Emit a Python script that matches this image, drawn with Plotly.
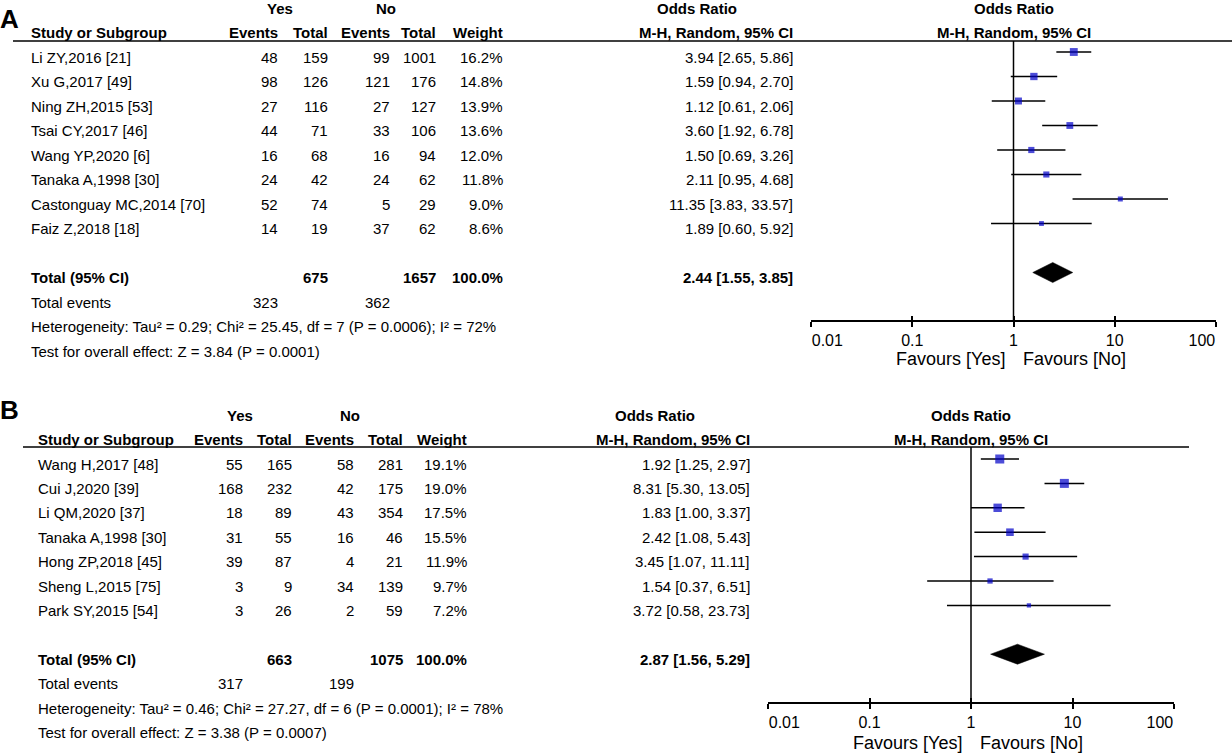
import plotly.graph_objects as go

W, H = 1232, 753
FONT = "Arial, 'Liberation Sans', sans-serif"

# ---------------- panel A data ----------------
a_study = ["Li ZY,2016 [21]", "Xu G,2017 [49]", "Ning ZH,2015 [53]", "Tsai CY,2017 [46]",
           "Wang YP,2020 [6]", "Tanaka A,1998 [30]", "Castonguay MC,2014 [70]", "Faiz Z,2018 [18]"]
a_yes_events = [48, 98, 27, 44, 16, 24, 52, 14]
a_yes_total = [159, 126, 116, 71, 68, 42, 74, 19]
a_no_events = [99, 121, 27, 33, 16, 24, 5, 37]
a_no_total = [1001, 176, 127, 106, 94, 62, 29, 62]
a_weight = [16.2, 14.8, 13.9, 13.6, 12.0, 11.8, 9.0, 8.6]
a_or = [3.94, 1.59, 1.12, 3.60, 1.50, 2.11, 11.35, 1.89]
a_lo = [2.65, 0.94, 0.61, 1.92, 0.69, 0.95, 3.83, 0.60]
a_hi = [5.86, 2.70, 2.06, 6.78, 3.26, 4.68, 33.57, 5.92]
a_total_n = [675, 1657]
a_total_weight = 100.0
a_total_or = [2.44, 1.55, 3.85]
a_total_events = [323, 362]
a_het = "Heterogeneity: Tau² = 0.29; Chi² = 25.45, df = 7 (P = 0.0006); I² = 72%"
a_test = "Test for overall effect: Z = 3.84 (P = 0.0001)"

# ---------------- panel B data ----------------
b_study = ["Wang H,2017 [48]", "Cui J,2020 [39]", "Li QM,2020 [37]", "Tanaka A,1998 [30]",
           "Hong ZP,2018 [45]", "Sheng L,2015 [75]", "Park SY,2015 [54]"]
b_yes_events = [55, 168, 18, 31, 39, 3, 3]
b_yes_total = [165, 232, 89, 55, 87, 9, 26]
b_no_events = [58, 42, 43, 16, 4, 34, 2]
b_no_total = [281, 175, 354, 46, 21, 139, 59]
b_weight = [19.1, 19.0, 17.5, 15.5, 11.9, 9.7, 7.2]
b_or = [1.92, 8.31, 1.83, 2.42, 3.45, 1.54, 3.72]
b_lo = [1.25, 5.30, 1.00, 1.08, 1.07, 0.37, 0.58]
b_hi = [2.97, 13.05, 3.37, 5.43, 11.11, 6.51, 23.73]
b_total_n = [663, 1075]
b_total_weight = 100.0
b_total_or = [2.87, 1.56, 5.29]
b_total_events = [317, 199]
b_het = "Heterogeneity: Tau² = 0.46; Chi² = 27.27, df = 6 (P = 0.0001); I² = 78%"
b_test = "Test for overall effect: Z = 3.38 (P = 0.0007)"

tick_vals = [0.01, 0.1, 1, 10, 100]
tick_text = ["0.01", "0.1", "1", "10", "100"]


def px(p):
    return p / W


def py(p):
    return 1 - p / H


fig = go.Figure()
annotations = []
shapes = []


def txt(x, y, s, yref, anchor="right", bold=False, size=15, xref="paper", xshift=0, yshift=-5):
    annotations.append(dict(
        x=x, y=y, xref=xref, yref=yref, text="<b>%s</b>" % s if bold else s,
        xanchor=anchor, yanchor="middle", showarrow=False, xshift=xshift, yshift=yshift,
        font=dict(family=FONT, size=size, color="black")))


def panel(label, study, ye, yt, ne, nt, wt, orr, lo, hi, tot_n, tot_w, tot_or, tot_ev, het, test, g):
    xa, ya = g["xaxes"][0], g["yaxis"]
    yref = "y" if ya == "yaxis" else "y" + ya[5:]
    xref = "x" + xa[5:]
    n = len(study)
    rows = list(range(n))

    # panel letter
    annotations.append(dict(x=px(g["label_x"]), y=py(g["label_y"]), xref="paper", yref="paper",
                            text="<b>%s</b>" % label, showarrow=False, xanchor="center",
                            yanchor="middle", font=dict(family=FONT, size=26, color="black")))

    c = g["cols"]
    # headers (annotation x on a log axis is log10 -> 0 is OR = 1)
    txt(px(g["yes_c"]), -2, "Yes", yref, "center", True)
    txt(px(g["no_c"]), -2, "No", yref, "center", True)
    txt(px(g["or_c"]), -2, "Odds Ratio", yref, "center", True)
    txt(0, -2, "Odds Ratio", yref, "center", True, xref=xref)
    txt(px(g["study_x"]), -1, "Study or Subgroup", yref, "left", True)
    for key, head in zip(["ye", "yt", "ne", "nt", "wt", "ort"],
                         ["Events", "Total", "Events", "Total", "Weight", "M-H, Random, 95% CI"]):
        txt(px(c[key]), -1, head, yref, "right", True)
    txt(0, -1, "M-H, Random, 95% CI", yref, "center", True, xref=xref)

    # study rows
    for i in rows:
        txt(px(g["study_x"]), i, study[i], yref, "left")
        txt(px(c["ye"]), i, str(ye[i]), yref)
        txt(px(c["yt"]), i, str(yt[i]), yref)
        txt(px(c["ne"]), i, str(ne[i]), yref)
        txt(px(c["nt"]), i, str(nt[i]), yref)
        txt(px(c["wt"]), i, "%.1f%%" % wt[i], yref)
        txt(px(c["ort"]), i, "%.2f [%.2f, %.2f]" % (orr[i], lo[i], hi[i]), yref)

    # totals
    tr = n + 1
    txt(px(g["study_x"]), tr, "Total (95% CI)", yref, "left", True)
    txt(px(c["yt"]), tr, str(tot_n[0]), yref, bold=True)
    txt(px(c["nt"]), tr, str(tot_n[1]), yref, bold=True)
    txt(px(c["wt"]), tr, "%.1f%%" % tot_w, yref, bold=True)
    txt(px(c["ort"]), tr, "%.2f [%.2f, %.2f]" % tuple(tot_or), yref, bold=True)
    txt(px(g["study_x"]), tr + 1, "Total events", yref, "left")
    txt(px(c["ye"]), tr + 1, str(tot_ev[0]), yref)
    txt(px(c["ne"]), tr + 1, str(tot_ev[1]), yref)
    txt(px(g["study_x"]), tr + 2, het, yref, "left")
    txt(px(g["study_x"]), tr + 3, test, yref, "left")

    # CI whiskers
    wx, wy = [], []
    for i in rows:
        wx += [lo[i], hi[i], None]
        wy += [i, i, None]
    fig.add_trace(go.Scatter(x=wx, y=wy, mode="lines", line=dict(color="black", width=1.5),
                             xaxis=xref, yaxis=yref, hoverinfo="skip", showlegend=False))
    # weighted squares
    fig.add_trace(go.Scatter(x=orr, y=rows, mode="markers",
                             marker=dict(symbol="square", color="#0000c8",
                                         size=[0.4 * w + 1.4 for w in wt], line=dict(width=0)),
                             xaxis=xref, yaxis=yref, showlegend=False))
    # pooled diamond
    h = 0.41
    fig.add_trace(go.Scatter(x=[tot_or[1], tot_or[0], tot_or[2], tot_or[0], tot_or[1]],
                             y=[tr, tr - h, tr, tr + h, tr], mode="lines", fill="toself",
                             fillcolor="black", line=dict(color="black", width=0.5),
                             xaxis=xref, yaxis=yref, hoverinfo="skip", showlegend=False))

    # header rule and line of no effect
    shapes.append(dict(type="line", xref="paper", yref="paper", x0=px(g["rule_x"][0]),
                       x1=px(g["rule_x"][1]), y0=py(g["rule_y"]), y1=py(g["rule_y"]),
                       line=dict(color="black", width=1.5)))
    shapes.append(dict(type="line", xref=xref, yref="paper", x0=1, x1=1,
                       y0=py(g["rule_y"]), y1=py(g["axis_y"]),
                       line=dict(color="black", width=1.5)))

    # log axis: main (line, ticks below, inner labels), ticks above, and the
    # two end labels pulled inside the axis ends like RevMan does
    dom = [px(g["plot_x"][0]), px(g["plot_x"][1])]
    common = dict(type="log", range=[-2, 2], domain=dom, anchor="free",
                  position=py(g["axis_y"]), showgrid=False, zeroline=False,
                  tickcolor="black", tickwidth=1.5, ticklen=5, fixedrange=True,
                  automargin=False, tickfont=dict(family=FONT, size=16, color="black"))
    main_text = [""] + tick_text[1:-1] + [""]
    fig.layout[xa] = dict(common, ticks="outside", showline=True, linecolor="black",
                          linewidth=2, tickvals=tick_vals, ticktext=main_text)
    extra = [
        (g["xaxes"][1], dict(ticks="inside", tickvals=tick_vals, showticklabels=False)),
        (g["xaxes"][2], dict(ticks="outside", tickvals=tick_vals[:1], ticktext=tick_text[:1],
                             ticklabelposition="outside right", ticklabelstandoff=5)),
        (g["xaxes"][3], dict(ticks="outside", tickvals=tick_vals[-1:], ticktext=tick_text[-1:],
                             ticklabelposition="outside left", ticklabelstandoff=5)),
    ]
    for name, opts in extra:
        fig.layout[name] = dict(common, showline=False, overlaying=xref, **opts)
        fig.add_trace(go.Scatter(x=[1], y=[0], mode="markers", marker=dict(opacity=0),
                                 xaxis="x" + name[5:], yaxis=yref, hoverinfo="skip",
                                 showlegend=False))

    r0, st = g["row0"], g["step"]
    fig.layout[ya] = dict(domain=[0, 1], range=[(H - r0) / st, -r0 / st], visible=False,
                          fixedrange=True, anchor="free", automargin=False)

    txt(0, py(g["fav_y"]), "Favours [Yes]", "paper", "right", size=18, xref=xref, xshift=-7, yshift=0)
    txt(0, py(g["fav_y"]), "Favours [No]", "paper", "left", size=18, xref=xref, xshift=7, yshift=0)


geo_a = dict(xaxes=["xaxis2", "xaxis3", "xaxis6", "xaxis7"], yaxis="yaxis",
             label_x=10, label_y=19, row0=52, step=24.5, study_x=29,
             cols=dict(ye=280, yt=330, ne=392, nt=438, wt=505, ort=795),
             yes_c=280, no_c=386, or_c=697,
             plot_x=[811, 1216], axis_y=321, rule_y=41, rule_x=[13, 1232], fav_y=359)
geo_b = dict(xaxes=["xaxis4", "xaxis5", "xaxis8", "xaxis9"], yaxis="yaxis3",
             label_x=9, label_y=410, row0=459, step=24.4, study_x=36,
             cols=dict(ye=245, yt=294, ne=356, nt=405, wt=469, ort=752),
             yes_c=240, no_c=350, or_c=655,
             plot_x=[768, 1174], axis_y=703, rule_y=447, rule_x=[23, 1189], fav_y=743)

panel("A", a_study, a_yes_events, a_yes_total, a_no_events, a_no_total, a_weight,
      a_or, a_lo, a_hi, a_total_n, a_total_weight, a_total_or, a_total_events, a_het, a_test, geo_a)
panel("B", b_study, b_yes_events, b_yes_total, b_no_events, b_no_total, b_weight,
      b_or, b_lo, b_hi, b_total_n, b_total_weight, b_total_or, b_total_events, b_het, b_test, geo_b)

fig.update_layout(width=W, height=H, autosize=False, margin=dict(l=0, r=0, t=0, b=0, pad=0),
                  paper_bgcolor="white", plot_bgcolor="rgba(0,0,0,0)",
                  annotations=annotations, shapes=shapes, showlegend=False)

fig.write_html("out.html", config={"displayModeBar": False, "responsive": False},
               post_script="document.body.style.margin='0';document.body.style.overflow='hidden';")
